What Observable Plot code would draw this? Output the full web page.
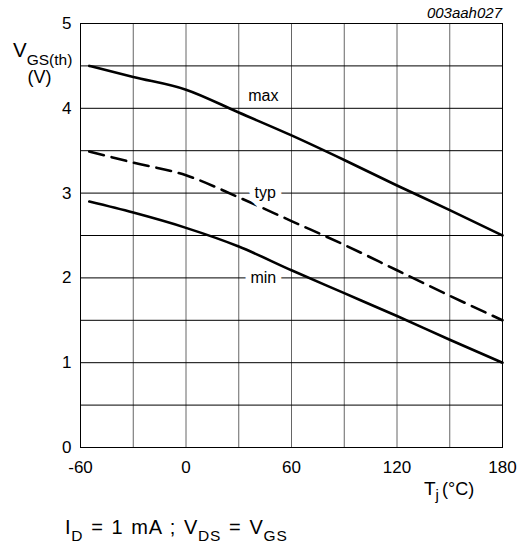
<!DOCTYPE html>
<html><head><meta charset="utf-8">
<script src="https://cdn.jsdelivr.net/npm/d3@7"></script>
<script src="https://cdn.jsdelivr.net/npm/@observablehq/plot@0.6"></script>
<style>body{margin:0;background:#fff;font-family:"Liberation Sans",Arial,sans-serif}</style>
</head><body><div id="chart"></div>
<script>
const temps = [-55,-30,0,30,60,90,120,150,180];
const vMax = [4.5,4.37,4.22,3.95,3.68,3.39,3.09,2.80,2.5];
const vTyp = [3.49,3.36,3.21,2.95,2.67,2.39,2.09,1.79,1.5];
const vMin = [2.9,2.77,2.59,2.37,2.09,1.82,1.55,1.27,1.0];
const xTicks = [-60,0,60,120,180];
const xGrid = [-60,-30,0,30,60,90,120,150,180];
const yTicks = [0,1,2,3,4,5];
const yGrid = [0,0.5,1,1.5,2,2.5,3,3.5,4,4.5,5];
const labelNames = ["max","typ","min"];
const labelT = [44,45,44];
const labelV = [4.15,3.0,2.0];

const series = [
  {name:"max", v:vMax, dash:null},
  {name:"typ", v:vTyp, dash:"15,8"},
  {name:"min", v:vMin, dash:null}
];
const font = '"Liberation Sans", Arial, sans-serif';

const marks = [
  Plot.ruleX(xGrid, {stroke:"#666", strokeWidth:1}),
  Plot.ruleY(yGrid, {stroke:"#000", strokeWidth:1}),
  ...series.map(s => Plot.line(temps.map((t,i)=>({t, v:s.v[i]})), {x:"t", y:"v", stroke:"#000", strokeWidth:2.6, strokeDasharray:s.dash, curve:"monotone-x"})),
  Plot.text(labelNames.map((n,i)=>({n, t:labelT[i], v:labelV[i]})), {x:"t", y:"v", text:"n", fill:"#000", stroke:"white", strokeWidth:12, fontSize:16, fontFamily:font}),
  Plot.frame({stroke:"#000", strokeWidth:1}),
  Plot.axisX(xTicks, {tickSize:0, tickPadding:13, fontSize:17, fontFamily:font, fill:"#000", tickFormat:d => String(d)}),
  Plot.axisY(yTicks, {tickSize:0, tickPadding:9, fontSize:17, fontFamily:font, fill:"#000", tickFormat:d => String(d)})
];

const chart = Plot.plot({
  width:524, height:545,
  marginLeft:80, marginRight:22, marginTop:23, marginBottom:98,
  x:{domain:[-60,180], label:null},
  y:{domain:[0,5], label:null},
  style:{fontFamily:font, background:"#fff", color:"#000"},
  marks
});
document.getElementById("chart").appendChild(chart);

const svg = d3.select(chart);
function addText(x, y, parts, size, opts={}) {
  const t = svg.append("text").attr("x", x).attr("y", y)
    .attr("font-family", font).attr("font-size", size).attr("fill", "#000")
    .attr("text-anchor", opts.anchor || "start");
  if (opts.italic) t.attr("font-style", "italic");
  if (opts.ls) t.attr("letter-spacing", opts.ls);
  if (opts.ws) t.attr("word-spacing", opts.ws);
  parts.forEach(p => {
    const ts = t.append("tspan").text(p.s);
    if (p.size) ts.attr("font-size", p.size);
    if (p.dy) ts.attr("dy", p.dy);
    if (p.dx) ts.attr("dx", p.dx);
  });
}
addText(502, 18, [{s:"003aah027"}], 15, {anchor:"end", italic:true});
addText(13, 57, [{s:"V"},{s:"GS(th)", size:15.5, dy:8}], 20.5);
addText(39.5, 83, [{s:"(V)"}], 18, {anchor:"middle"});
addText(424, 495, [{s:"T", size:19},{s:"j", size:15, dy:5},{s:"(°C)", size:18, dy:-5, dx:3}], 18);
addText(65, 534, [{s:"I"},{s:"D", size:15.5, dy:7},{s:" = 1 mA ; V", dy:-7},{s:"DS", size:15.5, dy:7},{s:" = V", dy:-7},{s:"GS", size:15.5, dy:7}], 20, {ls:0.8, ws:1.5});
</script></body></html>
